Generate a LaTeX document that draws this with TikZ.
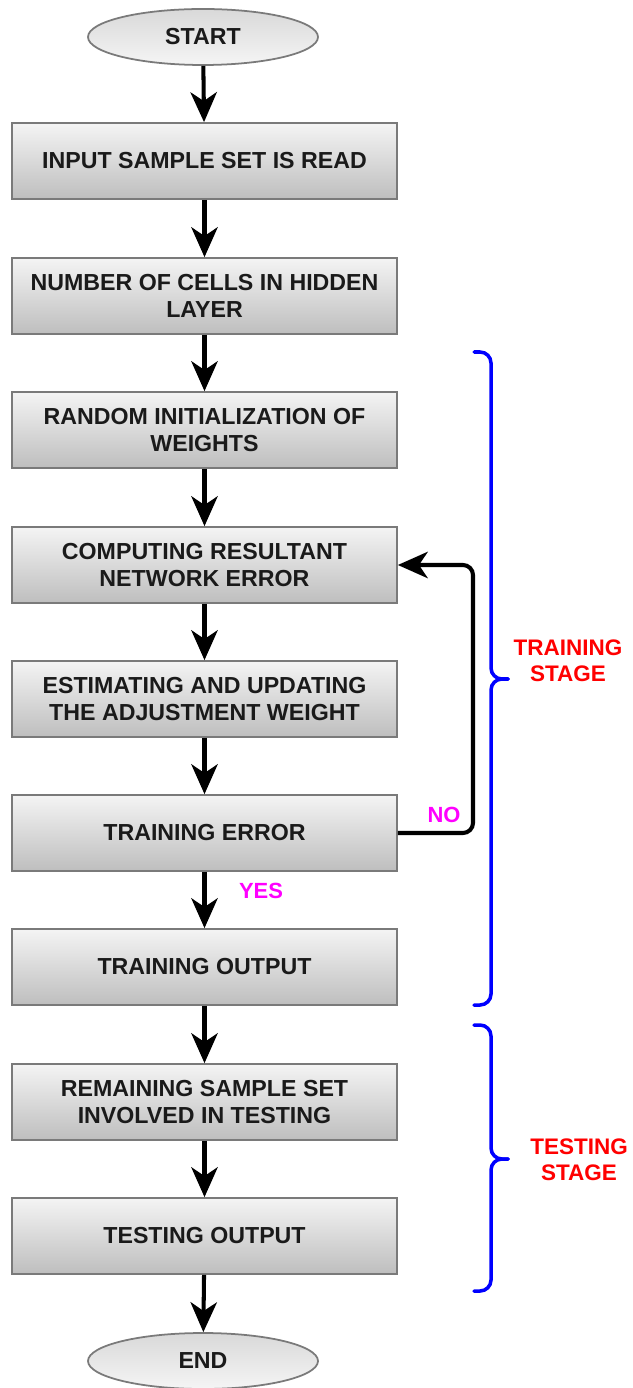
\documentclass[tikz,border=0pt]{standalone}
\usepackage{fontspec}
\setmainfont{Liberation Sans}
\usetikzlibrary{arrows.meta,shapes.geometric,positioning}
\definecolor{boxtop}{HTML}{F4F4F4}
\definecolor{boxbot}{HTML}{BEBEBE}
\definecolor{boxline}{HTML}{7A7A7A}
\definecolor{lblmag}{HTML}{FF00FF}
\definecolor{lblred}{HTML}{FF0000}
\definecolor{brblue}{HTML}{0000FF}
\definecolor{txt}{HTML}{1A1A1A}
\begin{document}
\begin{tikzpicture}[x=0.02cm,y=-0.02cm,
  stepbox/.style={rectangle,draw=boxline,line width=1pt,top color=boxtop,bottom color=boxbot,
    minimum width=385*0.02cm,minimum height=76*0.02cm,align=center,inner sep=0pt,
    font=\fontsize{13.2}{15.5}\selectfont\bfseries,text=txt},
  term/.style={ellipse,draw=boxline,line width=1pt,top color=gray!30,bottom color=gray!8,
    minimum width=230*0.02cm,minimum height=56*0.02cm,inner sep=0pt,
    font=\fontsize{13.2}{15.5}\selectfont\bfseries,text=txt},
  flow/.style={line width=2.3pt,-{Stealth[length=17pt,width=15pt,inset=5pt]}},
  tag/.style={font=\fontsize{12.5}{15}\selectfont\bfseries,text=lblmag},
  stage/.style={font=\fontsize{12.8}{15}\selectfont\bfseries,text=lblred,align=center},
  brc/.style={draw=brblue,line width=2pt,rounded corners=11*0.02cm,line cap=round}
]
\useasboundingbox (0,0) rectangle (632,1388);
\node[term] (start) at (203,37) {START};
\node[stepbox] (b1) at (204.5,161) {INPUT SAMPLE SET IS READ};
\node[stepbox] (b2) at (204.5,296) {NUMBER OF CELLS IN HIDDEN\\LAYER};
\node[stepbox] (b3) at (204.5,430) {RANDOM INITIALIZATION OF\\WEIGHTS};
\node[stepbox] (b4) at (204.5,565) {COMPUTING RESULTANT\\NETWORK ERROR};
\node[stepbox] (b5) at (204.5,699) {ESTIMATING AND UPDATING\\THE ADJUSTMENT WEIGHT};
\node[stepbox] (b6) at (204.5,833) {TRAINING ERROR};
\node[stepbox] (b7) at (204.5,967) {TRAINING OUTPUT};
\node[stepbox] (b8) at (204.5,1102) {REMAINING SAMPLE SET\\INVOLVED IN TESTING};
\node[stepbox] (b9) at (204.5,1236) {TESTING OUTPUT};
\node[term] (end) at (203,1361) {END};

\draw[flow] (start) -- (b1);
\draw[flow] (b1) -- (b2);
\draw[flow] (b2) -- (b3);
\draw[flow] (b3) -- (b4);
\draw[flow] (b4) -- (b5);
\draw[flow] (b5) -- (b6);
\draw[flow] (b6) -- (b7);
\draw[flow] (b7) -- (b8);
\draw[flow] (b8) -- (b9);
\draw[flow] (b9) -- (end);
\coordinate (lp) at (473,0);
\draw[flow,rounded corners=10*0.02cm] (b6.east) -- (b6.east -| lp) -- (b4.east -| lp) -- (b4.east);

\node[tag] (no) at (444,815) {NO};
\node[tag] (yes) at (261,891) {YES};

% training brace
\coordinate (ta) at (474,352);
\coordinate (tm) at (491,679);
\coordinate (tb) at (474,1005);
\draw[brc] (ta) -- (ta -| tm) -- (tm) -- ++(17,0);
\draw[brc] (tm) ++(17,0) -- (tm) -- (tm |- tb) -- (tb);
% testing brace
\coordinate (sa) at (474,1025);
\coordinate (sm) at (491,1159);
\coordinate (sb) at (474,1291);
\draw[brc] (sa) -- (sa -| sm) -- (sm) -- ++(17,0);
\draw[brc] (sm) ++(17,0) -- (sm) -- (sm |- sb) -- (sb);

\node[stage] (trs) at (568,661) {TRAINING\\STAGE};
\node[stage] (tss) at (579,1160) {TESTING\\STAGE};
\end{tikzpicture}
\end{document}
